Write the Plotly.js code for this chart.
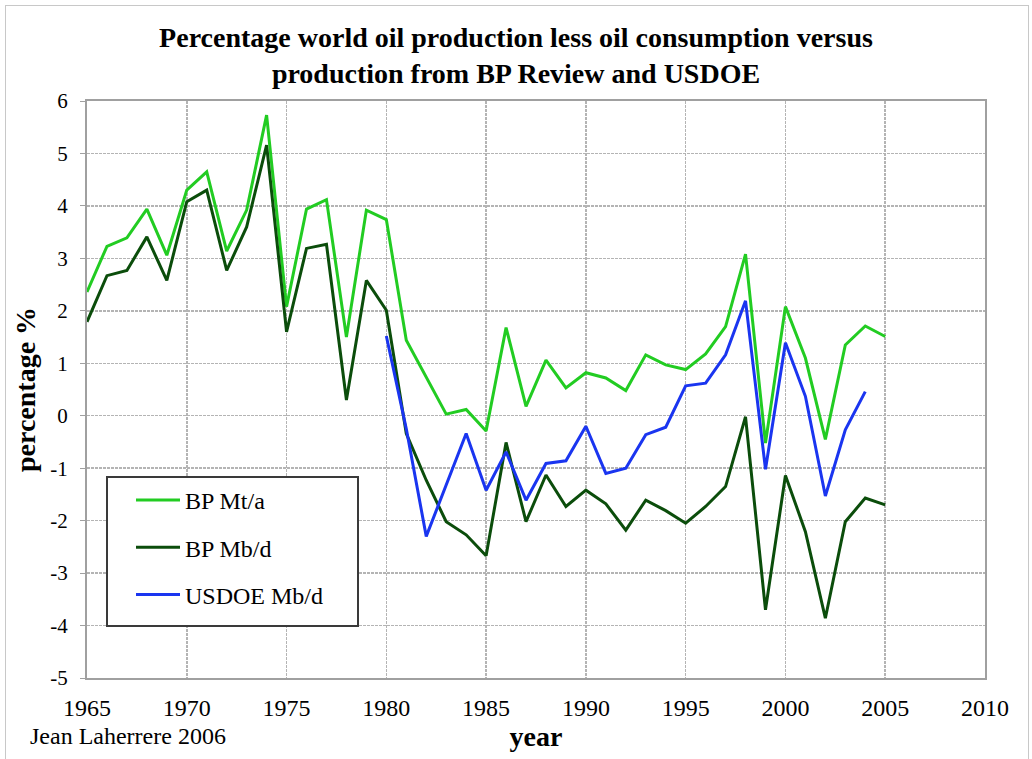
<!DOCTYPE html>
<html>
<head>
<meta charset="utf-8">
<script src="https://cdn.plot.ly/plotly-3.0.1.min.js"></script>
<style>
  html, body { margin: 0; padding: 0; background: #fff; }
  #wrap { position: relative; width: 1032px; height: 759px; overflow: hidden; }
  #chart { width: 1032px; height: 759px; }
  #frame { position: absolute; left: 5px; top: 5px; width: 1022px; height: 780px;
           border: 1px solid #c8c8c8; pointer-events: none; }
</style>
</head>
<body>
<div id="wrap">
  <div id="chart"></div>
  <div id="frame"></div>
</div>
<script>
// Years
const yearsBP = [1965,1966,1967,1968,1969,1970,1971,1972,1973,1974,1975,1976,1977,1978,1979,1980,
                 1981,1982,1983,1984,1985,1986,1987,1988,1989,1990,1991,1992,1993,1994,1995,
                 1996,1997,1998,1999,2000,2001,2002,2003,2004,2005];
const yearsDOE = [1980,1981,1982,1983,1984,1985,1986,1987,1988,1989,1990,1991,1992,1993,1994,1995,
                  1996,1997,1998,1999,2000,2001,2002,2003,2004];

// BP Mt/a (%)
const bpMta = [2.36,3.23,3.39,3.94,3.06,4.30,4.65,3.14,3.92,5.73,2.08,3.94,4.12,1.50,3.92,3.74,
               1.44,0.74,0.03,0.12,-0.29,1.68,0.18,1.06,0.53,0.82,0.72,0.48,1.16,0.97,0.88,
               1.18,1.70,3.08,-0.52,2.08,1.10,-0.45,1.35,1.71,1.51];
// BP Mb/d (%)
const bpMbd = [1.79,2.67,2.77,3.41,2.58,4.08,4.30,2.77,3.60,5.16,1.60,3.19,3.27,0.30,2.58,2.01,
               -0.34,-1.23,-2.02,-2.27,-2.67,-0.51,-2.02,-1.13,-1.73,-1.42,-1.68,-2.18,-1.61,-1.81,-2.05,
               -1.73,-1.35,-0.02,-3.70,-1.14,-2.21,-3.86,-2.02,-1.57,-1.70];
// USDOE Mb/d (%)
const doeMbd = [1.52,-0.25,-2.30,-1.32,-0.34,-1.42,-0.69,-1.61,-0.91,-0.86,-0.20,-1.10,-1.00,-0.36,-0.22,0.57,
                0.62,1.16,2.19,-1.02,1.39,0.37,-1.53,-0.27,0.46];

const seriesNames = ['BP Mt/a', 'BP Mb/d', 'USDOE Mb/d'];
const xTicks = [1965,1970,1975,1980,1985,1990,1995,2000,2005,2010];
const yTicks = [-5,-4,-3,-2,-1,0,1,2,3,4,5,6];

const serif = 'Liberation Serif, Times New Roman, serif';

// plot area in pixels: x 87..985, y 101..678
const px = v => (v - 87) / 898;
const py = v => (678 - v) / 577;

const traces = [
  {x: yearsBP, y: bpMta, name: seriesNames[0], legendgroup: 'a', mode: 'lines',
   line: {color: '#22cc22', width: 3}},
  {x: yearsBP, y: bpMbd, name: seriesNames[1], legendgroup: 'b', mode: 'lines',
   line: {color: '#0b4d0b', width: 3}},
  {x: yearsDOE, y: doeMbd, name: seriesNames[2], legendgroup: 'c', mode: 'lines',
   line: {color: '#1a35f0', width: 3}}
];

const layout = {
  width: 1032, height: 759,
  margin: {l: 87, r: 47, t: 101, b: 81},
  paper_bgcolor: '#fff', plot_bgcolor: '#fff',
  font: {family: serif, color: '#000', size: 20},
  title: {
    text: 'Percentage world oil production less oil consumption versus<br>production from BP Review and USDOE',
    font: {family: serif, size: 28, weight: 'bold', color: '#000'},
    x: 0.5, xanchor: 'center', xref: 'container', yref: 'container',
    y: 1 - 47 / 759, yanchor: 'top'
  },
  xaxis: {
    range: [1965, 2010], tickvals: xTicks, ticktext: xTicks.map(String),
    showgrid: true, gridcolor: '#b4b4b4', gridwidth: 1.5, griddash: '3px,1px',
    showline: true, linecolor: '#a0a0a0', linewidth: 2, mirror: true,
    ticks: '', ticklabelstandoff: 7, zeroline: false,
    tickfont: {family: serif, size: 24, color: '#000'},
    title: {text: 'year', font: {family: serif, size: 28, weight: 'bold'}, standoff: 4}
  },
  yaxis: {
    range: [-5, 6], tickvals: yTicks, ticktext: yTicks.map(String),
    showgrid: true, gridcolor: '#b4b4b4', gridwidth: 1.5, griddash: '3px,1px',
    showline: true, linecolor: '#a0a0a0', linewidth: 2, mirror: true,
    ticks: 'outside', ticklen: 5, tickcolor: '#a0a0a0', ticklabelstandoff: 8, zeroline: false,
    tickfont: {family: serif, size: 21, color: '#000'},
    title: {text: 'percentage %', font: {family: serif, size: 28, weight: 'bold'}, standoff: 6}
  },
  showlegend: true,
  legend: {
    x: px(131), y: py(478), xanchor: 'left', yanchor: 'top',
    bgcolor: 'rgba(0,0,0,0)', borderwidth: 0,
    font: {family: serif, size: 24, color: '#000'},
    tracegroupgap: 13, itemwidth: 44
  },
  shapes: [
    {type: 'rect', xref: 'paper', yref: 'paper', layer: 'above',
     x0: px(107), x1: px(358), y0: py(477), y1: py(626),
     line: {color: '#3a3a3a', width: 2}, fillcolor: '#fff'}
  ],
  annotations: [
    {text: 'Jean Laherrere 2006', xref: 'paper', yref: 'paper',
     x: px(28), y: py(736), xanchor: 'left', yanchor: 'middle',
     showarrow: false, font: {family: serif, size: 24, color: '#000'}}
  ]
};

Plotly.newPlot('chart', traces, layout, {displayModeBar: false, staticPlot: true});
</script>
</body>
</html>
